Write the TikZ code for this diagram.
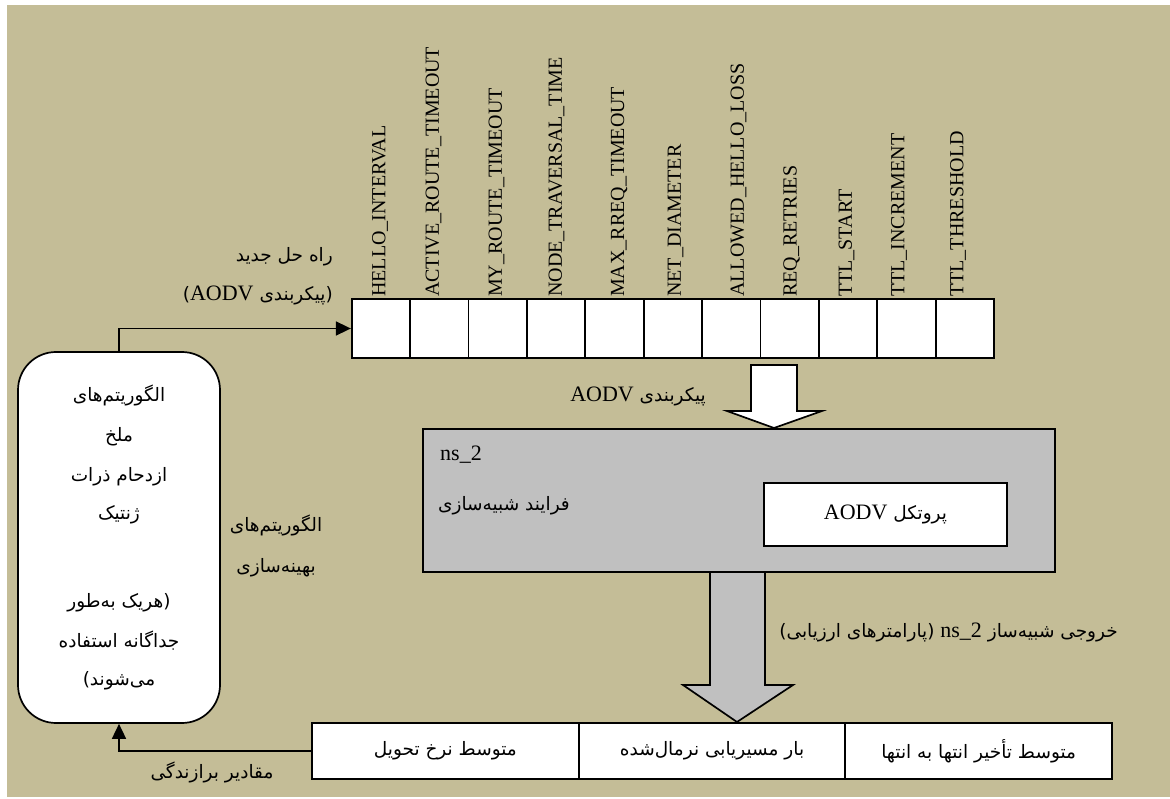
\documentclass[tikz,border=0pt]{standalone}
\usepackage{fontspec}
\setmainfont{Liberation Serif}
\newfontfamily\fafont[Script=Arabic]{DejaVu Sans}
\TeXXeTstate=1
\usetikzlibrary{arrows.meta}
\definecolor{bgtan}{RGB}{196,189,151}
\definecolor{boxgray}{RGB}{192,192,192}
\newcommand\fa[1]{{\fafont\fontsize{18.5}{22}\selectfont\beginR #1\endR}}
\newcommand\la[1]{\beginL{\rmfamily\fontsize{22}{26}\selectfont #1}\endL}
\tikzset{
  box/.style={draw, line width=1.7pt, fill=white, inner sep=0pt},
  cell/.style={box, minimum width=58.4pt, minimum height=59pt},
  resbox/.style={box, minimum width=266.7pt, minimum height=56pt},
  plabel/.style={rotate=90, anchor=west, inner sep=0pt, font=\fontsize{20}{24}\selectfont},
  txt/.style={inner sep=0pt},
  link/.style={line width=1.7pt, -{Triangle[length=15pt,width=14pt]}},
  blockarrow/.style={draw, line width=1.7pt, line join=miter}
}
\begin{document}
\begin{tikzpicture}[x=1pt,y=-1pt]
\useasboundingbox (0,0) rectangle (1170,799);
\fill[white] (0,0) rectangle (1170,799);
\fill[bgtan] (7,5) rectangle (1170,797);

% left rounded box
\node[box, rounded corners=38pt, minimum width=202pt, minimum height=371pt] (alg) at (119,537.5) {};
\node[txt] (l1) at (119,395) {\fa{الگوریتم‌های}};
\node[txt] (l2) at (119,437) {\fa{ملخ}};
\node[txt] (l3) at (119,477) {\fa{ازدحام ذرات}};
\node[txt] (l4) at (119,515) {\fa{ژنتیک}};
\node[txt] (l5) at (119,603) {\fa{(هریک به‌طور}};
\node[txt] (l6) at (119,641) {\fa{جداگانه استفاده}};
\node[txt] (l7) at (119,681) {\fa{می‌شوند)}};

% parameter cells
\foreach \i in {0,...,10} {
  \node[cell] (c\i) at ({351.7+58.4*\i+29.2},328.5) {};
}
\node[plabel] (p0) at (380,297) {HELLO\_INTERVAL};
\node[plabel] (p1) at (433.5,297) {ACTIVE\_ROUTE\_TIMEOUT};
\node[plabel] (p2) at (496.5,297) {MY\_ROUTE\_TIMEOUT};
\node[plabel] (p3) at (556.5,297) {NODE\_TRAVERSAL\_TIME};
\node[plabel] (p4) at (619,297) {MAX\_RREQ\_TIMEOUT};
\node[plabel] (p5) at (675.5,297) {NET\_DIAMETER};
\node[plabel] (p6) at (738.5,297) {ALLOWED\_HELLO\_LOSS};
\node[plabel] (p7) at (791.5,297) {REQ\_RETRIES};
\node[plabel] (p8) at (846.5,297) {TTL\_START};
\node[plabel] (p9) at (899,297) {TTL\_INCREMENT};
\node[plabel] (p10) at (958,297) {TTL\_THRESHOLD};

\node[txt, anchor=east] (new1) at (333,257) {\fa{راه حل جدید}};
\node[txt, anchor=east] (new2) at (333,295) {\fa{(پیکربندی \la{AODV})}};

\node[txt] (opt1) at (276,525) {\fa{الگوریتم‌های}};
\node[txt] (opt2) at (276,568) {\fa{بهینه‌سازی}};

% simulator box
\node[box, fill=boxgray, minimum width=632pt, minimum height=143pt] (sim) at (739,500.5) {};
\node[txt, anchor=west, font=\fontsize{22}{26}\selectfont] (ns) at (440,455) {ns\_2};
\node[txt, anchor=east] (proc) at (570,506) {\fa{فرایند شبیه‌سازی}};
\node[box, minimum width=243pt, minimum height=63pt] (proto) at (885.5,514.5) {\fa{پروتکل \la{AODV}}};

\node[txt, anchor=east] (cfg) at (706,396) {\fa{پیکربندی \la{AODV}}};

% white block arrow
\path[blockarrow, fill=white] (751,365) -- (797,365) -- (797,411) -- (822,411) -- (774,428) -- (727,411) -- (751,411) -- cycle;

% gray block arrow
\path[blockarrow, fill=boxgray] (710,572) -- (765,572) -- (765,685) -- (793,685) -- (737,722) -- (683,685) -- (710,685) -- cycle;

\node[txt, anchor=east] (outl) at (1118,632) {\fa{خروجی شبیه‌ساز \la{ns\_2} (پارامترهای ارزیابی)}};

% result boxes
\node[resbox] (r1) at (445.35,751) {\fa{متوسط نرخ تحویل}};
\node[resbox] (r2) at (712,751) {\fa{بار مسیریابی نرمال‌شده}};
\node[resbox] (r3) at (978.65,751) {\fa{متوسط تأخیر انتها به انتها}};

\node[txt] (fit) at (212,772) {\fa{مقادیر برازندگی}};

% connectors
\draw[link] (alg.north) |- (c0.west);
\draw[link] (r1.west) -| (alg.south);
\end{tikzpicture}
\end{document}
